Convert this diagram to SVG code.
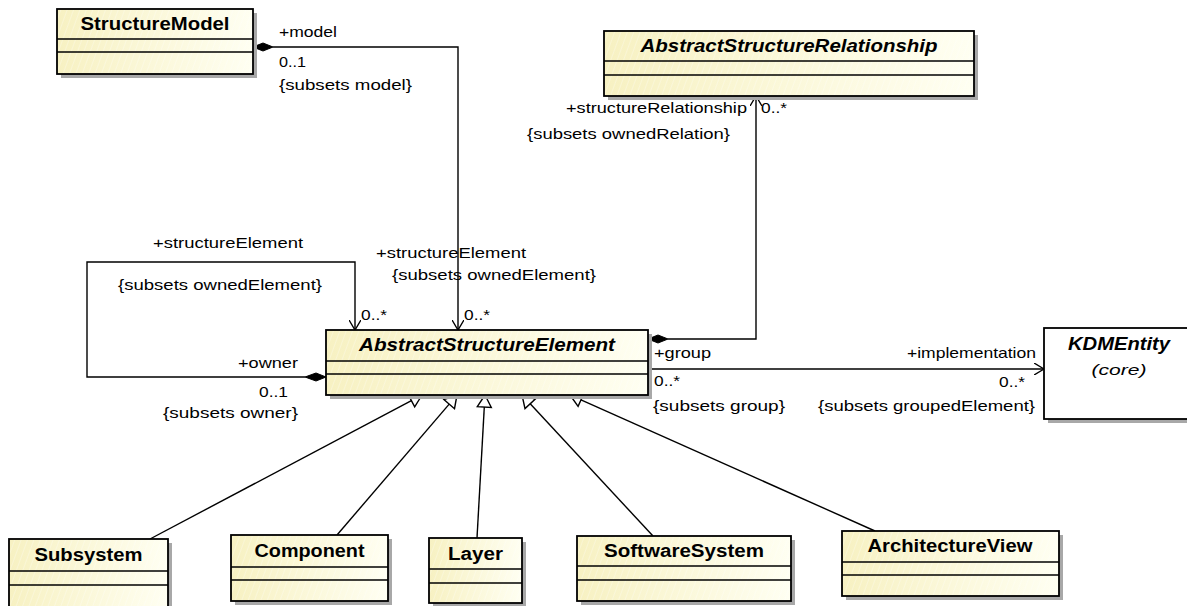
<svg xmlns="http://www.w3.org/2000/svg" width="1187" height="606" viewBox="0 0 1187 606">
<style>
.shadow{fill:#a8a8a8;stroke:none}
.box{fill:url(#yel);stroke:#000;stroke-width:1.8}
.hatch{fill:url(#hatch);stroke:none}
.wbox{fill:#fff;stroke:#000;stroke-width:1.8}
.div{stroke:#000;stroke-width:1.5}
.title{font-family:"Liberation Sans",Arial,sans-serif;font-weight:bold;font-size:17.5px;text-anchor:middle;fill:#000}
.ital{font-style:italic}
.core{font-family:"Liberation Sans",Arial,sans-serif;font-style:italic;font-size:15px;text-anchor:middle;fill:#000}
.lbl{font-family:"Liberation Sans",Arial,sans-serif;font-size:15px;fill:#000}
.conn{fill:none;stroke:#000;stroke-width:1.4}
.dia{fill:#000;stroke:#000;stroke-width:1}
.tri{fill:#fff;stroke:#000;stroke-width:1.4;stroke-linejoin:miter}
</style>
<defs>
<linearGradient id="yel" x1="0" y1="0" x2="1" y2="0">
<stop offset="0" stop-color="#f7f1c2"/>
<stop offset="1" stop-color="#fffff2"/>
</linearGradient>
<pattern id="hatch" patternUnits="userSpaceOnUse" width="6" height="6" patternTransform="rotate(20)">
<line x1="0" y1="0" x2="0" y2="6" stroke="#ffffff" stroke-opacity="0.55" stroke-width="1"/>
</pattern>
<marker id="open" viewBox="0 0 10 12" refX="10" refY="6" markerWidth="10" markerHeight="12" markerUnits="userSpaceOnUse" orient="auto">
<path d="M0,0 L10,6 L0,12" fill="none" stroke="#000" stroke-width="1.4"/>
</marker>
</defs>

<g id="connectors">
<polygon class="dia" points="253,47 263,43 273,47 263,51"/>
<path class="conn" d="M273,47 H458 V330" marker-end="url(#open)"/>
<polygon class="dia" points="326,377 316,373 305,377 316,381"/>
<path class="conn" d="M305,377 H87 V262 H355 V330" marker-end="url(#open)"/>
<polygon class="dia" points="648,339 658,335 668,339 658,343"/>
<path class="conn" d="M668,339 H756 V96" marker-end="url(#open)"/>
<path class="conn" d="M648,369 H1044" marker-end="url(#open)"/>
<line class="conn" x1="150" y1="539" x2="411.4" y2="400.6"/>
<polygon class="tri" points="422,395 414.7,406.8 408.1,394.4"/>
<line class="conn" x1="337" y1="535" x2="449.2" y2="404.1"/>
<polygon class="tri" points="457,395 454.5,408.7 443.9,399.6"/>
<line class="conn" x1="477" y1="538" x2="484.3" y2="407"/>
<polygon class="tri" points="485,395 491.3,407.4 477.3,406.6"/>
<line class="conn" x1="653" y1="536" x2="530.2" y2="403.8"/>
<polygon class="tri" points="522,395 535.3,399 525,408.6"/>
<line class="conn" x1="875" y1="531" x2="581" y2="399.9"/>
<polygon class="tri" points="570,395 583.8,393.5 578.1,406.3"/>
</g>

<g id="labels">
<text class="lbl" x="279" y="37" textLength="58" lengthAdjust="spacingAndGlyphs">+model</text>
<text class="lbl" x="279" y="67" textLength="27" lengthAdjust="spacingAndGlyphs">0..1</text>
<text class="lbl" x="279" y="90" textLength="133" lengthAdjust="spacingAndGlyphs">{subsets model}</text>
<text class="lbl" x="566" y="113" textLength="181" lengthAdjust="spacingAndGlyphs">+structureRelationship</text>
<text class="lbl" x="761" y="113" textLength="26" lengthAdjust="spacingAndGlyphs">0..*</text>
<text class="lbl" x="527" y="139" textLength="203" lengthAdjust="spacingAndGlyphs">{subsets ownedRelation}</text>
<text class="lbl" x="153" y="248" textLength="150" lengthAdjust="spacingAndGlyphs">+structureElement</text>
<text class="lbl" x="118" y="290" textLength="204" lengthAdjust="spacingAndGlyphs">{subsets ownedElement}</text>
<text class="lbl" x="361" y="320" textLength="26" lengthAdjust="spacingAndGlyphs">0..*</text>
<text class="lbl" x="376" y="258" textLength="150" lengthAdjust="spacingAndGlyphs">+structureElement</text>
<text class="lbl" x="392" y="280" textLength="204" lengthAdjust="spacingAndGlyphs">{subsets ownedElement}</text>
<text class="lbl" x="464" y="320" textLength="26" lengthAdjust="spacingAndGlyphs">0..*</text>
<text class="lbl" x="238" y="368" textLength="60" lengthAdjust="spacingAndGlyphs">+owner</text>
<text class="lbl" x="259" y="397" textLength="29" lengthAdjust="spacingAndGlyphs">0..1</text>
<text class="lbl" x="163" y="418" textLength="135" lengthAdjust="spacingAndGlyphs">{subsets owner}</text>
<text class="lbl" x="654" y="358" textLength="57" lengthAdjust="spacingAndGlyphs">+group</text>
<text class="lbl" x="654" y="386" textLength="26" lengthAdjust="spacingAndGlyphs">0..*</text>
<text class="lbl" x="653" y="411" textLength="132" lengthAdjust="spacingAndGlyphs">{subsets group}</text>
<text class="lbl" x="907" y="358" textLength="129" lengthAdjust="spacingAndGlyphs">+implementation</text>
<text class="lbl" x="999" y="387" textLength="26" lengthAdjust="spacingAndGlyphs">0..*</text>
<text class="lbl" x="818" y="411" textLength="217" lengthAdjust="spacingAndGlyphs">{subsets groupedElement}</text>
</g>

<g id="StructureModel">
<rect class="shadow" x="61" y="13" width="196" height="65"/>
<rect class="box" x="57" y="9" width="196" height="65"/>
<rect class="hatch" x="58" y="10" width="194" height="63"/>
<line class="div" x1="57" y1="39" x2="253" y2="39"/>
<line class="div" x1="57" y1="52" x2="253" y2="52"/>
<text class="title" x="155" y="30" textLength="149" lengthAdjust="spacingAndGlyphs">StructureModel</text>
</g>

<g id="AbstractStructureRelationship">
<rect class="shadow" x="608" y="35" width="370" height="65"/>
<rect class="box" x="604" y="31" width="370" height="65"/>
<rect class="hatch" x="605" y="32" width="368" height="63"/>
<line class="div" x1="604" y1="61" x2="974" y2="61"/>
<line class="div" x1="604" y1="75" x2="974" y2="75"/>
<text class="title ital" x="789" y="52" textLength="297" lengthAdjust="spacingAndGlyphs">AbstractStructureRelationship</text>
</g>

<g id="AbstractStructureElement">
<rect class="shadow" x="330" y="334" width="322" height="65"/>
<rect class="box" x="326" y="330" width="322" height="65"/>
<rect class="hatch" x="327" y="331" width="320" height="63"/>
<line class="div" x1="326" y1="361" x2="648" y2="361"/>
<line class="div" x1="326" y1="374" x2="648" y2="374"/>
<text class="title ital" x="487" y="351" textLength="256" lengthAdjust="spacingAndGlyphs">AbstractStructureElement</text>
</g>

<g id="KDMEntity">
<rect class="shadow" x="1048" y="332" width="150" height="91"/>
<rect class="wbox" x="1044" y="328" width="150" height="91"/>
<text class="title ital" x="1119" y="350" textLength="102" lengthAdjust="spacingAndGlyphs">KDMEntity</text>
<text class="core" x="1119" y="375" textLength="55" lengthAdjust="spacingAndGlyphs">(core)</text>
</g>

<g id="Subsystem">
<rect class="shadow" x="13" y="543" width="159" height="70"/>
<rect class="box" x="9" y="539" width="159" height="70"/>
<rect class="hatch" x="10" y="540" width="157" height="68"/>
<line class="div" x1="9" y1="571" x2="168" y2="571"/>
<line class="div" x1="9" y1="585" x2="168" y2="585"/>
<text class="title" x="88.5" y="561" textLength="108" lengthAdjust="spacingAndGlyphs">Subsystem</text>
</g>

<g id="Component">
<rect class="shadow" x="235" y="539" width="157" height="66"/>
<rect class="box" x="231" y="535" width="157" height="66"/>
<rect class="hatch" x="232" y="536" width="155" height="64"/>
<line class="div" x1="231" y1="567" x2="388" y2="567"/>
<line class="div" x1="231" y1="580" x2="388" y2="580"/>
<text class="title" x="309.5" y="557" textLength="110" lengthAdjust="spacingAndGlyphs">Component</text>
</g>

<g id="Layer">
<rect class="shadow" x="433" y="542" width="93" height="65"/>
<rect class="box" x="429" y="538" width="93" height="65"/>
<rect class="hatch" x="430" y="539" width="91" height="63"/>
<line class="div" x1="429" y1="569" x2="522" y2="569"/>
<line class="div" x1="429" y1="583" x2="522" y2="583"/>
<text class="title" x="475.5" y="560" textLength="55" lengthAdjust="spacingAndGlyphs">Layer</text>
</g>

<g id="SoftwareSystem">
<rect class="shadow" x="581" y="540" width="214" height="65"/>
<rect class="box" x="577" y="536" width="214" height="65"/>
<rect class="hatch" x="578" y="537" width="212" height="63"/>
<line class="div" x1="577" y1="566" x2="791" y2="566"/>
<line class="div" x1="577" y1="580" x2="791" y2="580"/>
<text class="title" x="684" y="557" textLength="160" lengthAdjust="spacingAndGlyphs">SoftwareSystem</text>
</g>

<g id="ArchitectureView">
<rect class="shadow" x="846" y="535" width="217" height="65"/>
<rect class="box" x="842" y="531" width="217" height="65"/>
<rect class="hatch" x="843" y="532" width="215" height="63"/>
<line class="div" x1="842" y1="562" x2="1059" y2="562"/>
<line class="div" x1="842" y1="575" x2="1059" y2="575"/>
<text class="title" x="950" y="552" textLength="165" lengthAdjust="spacingAndGlyphs">ArchitectureView</text>
</g>
</svg>
